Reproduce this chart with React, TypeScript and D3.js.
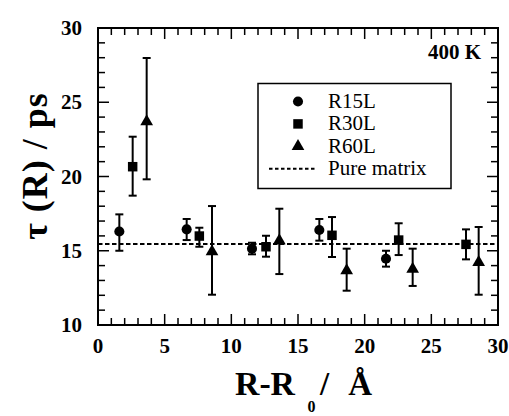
import React, { useRef, useEffect } from "react";
import * as d3 from "d3";

// R15L (circles)
const r15X = [1.6, 6.65, 11.55, 16.6, 21.6];
const r15Y = [16.3, 16.44, 15.14, 16.4, 14.46];
const r15Lo = [15.0, 15.72, 14.76, 15.68, 13.93];
const r15Hi = [17.45, 17.14, 15.54, 17.14, 15.0];

// R30L (squares)
const r30X = [2.6, 7.6, 12.6, 17.55, 22.55, 27.6];
const r30Y = [20.66, 15.99, 15.27, 16.04, 15.72, 15.43];
const r30Lo = [18.71, 15.27, 14.6, 14.58, 14.71, 14.42];
const r30Hi = [22.68, 16.55, 16.01, 17.27, 16.85, 16.44];

// R60L (triangles)
const r60X = [3.65, 8.55, 13.6, 18.65, 23.6, 28.55];
const r60Y = [23.69, 14.94, 15.68, 13.66, 13.77, 14.22];
const r60Lo = [19.81, 12.04, 13.43, 12.31, 12.63, 12.04];
const r60Hi = [27.98, 18.01, 17.83, 15.14, 15.14, 16.6];

const pureMatrix = 15.45;

const xTicks = [0, 5, 10, 15, 20, 25, 30];
const yTicks = [10, 15, 20, 25, 30];
const legendLabels = ["R15L", "R30L", "R60L", "Pure matrix"];

const App = () => {
    const ref = useRef<SVGSVGElement>(null);

    useEffect(() => {
        const width = 509;
        const height = 416;
        const font = "Liberation Serif, DejaVu Serif, serif";

        const svg = d3.select(ref.current)
            .attr("width", width)
            .attr("height", height)
            .attr("font-family", font);
        svg.selectAll("*").remove();

        const x = d3.scaleLinear().domain([0, 30]).range([98, 498]);
        const y = d3.scaleLinear().domain([10, 30]).range([325, 28]);

        const [x0, x1] = x.range();
        const [y0, y1] = y.range();

        // ticks on all four sides, pointing in
        const tk = svg.append("g").attr("stroke", "#000").attr("stroke-width", 1.5);
        d3.range(0, 31, 1).forEach(v => {
            const len = v % 5 === 0 ? 11 : 7;
            tk.append("line").attr("x1", x(v)).attr("x2", x(v)).attr("y1", y0).attr("y2", y0 - len);
            tk.append("line").attr("x1", x(v)).attr("x2", x(v)).attr("y1", y1).attr("y2", y1 + len);
        });
        d3.range(10, 31, 1).forEach(v => {
            const len = v % 5 === 0 ? 11 : 7;
            tk.append("line").attr("y1", y(v)).attr("y2", y(v)).attr("x1", x0).attr("x2", x0 + len);
            tk.append("line").attr("y1", y(v)).attr("y2", y(v)).attr("x1", x1).attr("x2", x1 - len);
        });

        // frame
        svg.append("rect")
            .attr("x", x0).attr("y", y1)
            .attr("width", x1 - x0).attr("height", y0 - y1)
            .attr("fill", "none").attr("stroke", "#000").attr("stroke-width", 2);

        // tick labels
        svg.append("g").selectAll("text").data(xTicks).enter().append("text")
            .attr("x", d => x(d)).attr("y", 353)
            .attr("text-anchor", "middle")
            .attr("font-weight", "bold").attr("font-size", 21)
            .text(d => d);
        svg.append("g").selectAll("text").data(yTicks).enter().append("text")
            .attr("x", 82).attr("y", d => y(d) + 7)
            .attr("text-anchor", "end")
            .attr("font-weight", "bold").attr("font-size", 21)
            .text(d => d);

        // pure matrix line
        svg.append("line")
            .attr("x1", x0).attr("x2", x1)
            .attr("y1", y(pureMatrix)).attr("y2", y(pureMatrix))
            .attr("stroke", "#000").attr("stroke-width", 2)
            .attr("stroke-dasharray", "4.5 2.5");

        const series = [
            { xs: r15X, ys: r15Y, lo: r15Lo, hi: r15Hi, sym: d3.symbolCircle, size: 80 },
            { xs: r30X, ys: r30Y, lo: r30Lo, hi: r30Hi, sym: d3.symbolSquare, size: 90 },
            { xs: r60X, ys: r60Y, lo: r60Lo, hi: r60Hi, sym: d3.symbolTriangle, size: 70 },
        ];

        const cap = 4;
        series.forEach(s => {
            const g = svg.append("g");
            s.xs.forEach((xv, i) => {
                const px = x(xv);
                const eb = g.append("g").attr("stroke", "#000").attr("stroke-width", 2);
                eb.append("line").attr("x1", px).attr("x2", px).attr("y1", y(s.lo[i])).attr("y2", y(s.hi[i]));
                eb.append("line").attr("x1", px - cap).attr("x2", px + cap).attr("y1", y(s.lo[i])).attr("y2", y(s.lo[i]));
                eb.append("line").attr("x1", px - cap).attr("x2", px + cap).attr("y1", y(s.hi[i])).attr("y2", y(s.hi[i]));
                g.append("path")
                    .attr("d", d3.symbol().type(s.sym).size(s.size)())
                    .attr("transform", `translate(${px},${y(s.ys[i])})`)
                    .attr("fill", "#000");
            });
        });

        // 400 K label
        svg.append("text")
            .attr("x", 481).attr("y", 59)
            .attr("text-anchor", "end")
            .attr("font-weight", "bold").attr("font-size", 21)
            .text("400 K");

        // Legend
        const lg = svg.append("g");
        lg.append("rect")
            .attr("x", 258).attr("y", 83.5)
            .attr("width", 193).attr("height", 105)
            .attr("fill", "#fff").attr("stroke", "#000").attr("stroke-width", 1.5);
        legendLabels.forEach((lab, i) => {
            const by = 108 + i * 22.4;
            lg.append("text")
                .attr("x", 328).attr("y", by)
                .attr("font-size", 21)
                .text(lab);
            if (i < 3) {
                lg.append("path")
                    .attr("d", d3.symbol().type(series[i].sym).size(series[i].size)())
                    .attr("transform", `translate(298,${by - 6.5})`)
                    .attr("fill", "#000");
            } else {
                lg.append("line")
                    .attr("x1", 269).attr("x2", 317)
                    .attr("y1", by - 6.5).attr("y2", by - 6.5)
                    .attr("stroke", "#000").attr("stroke-width", 2)
                    .attr("stroke-dasharray", "3.5 2.5");
            }
        });

        // Y axis title
        svg.append("text")
            .attr("transform", "translate(47,166) rotate(-90)")
            .attr("text-anchor", "middle")
            .attr("font-weight", "bold").attr("font-size", 36)
            .attr("letter-spacing", 1)
            .text("τ (R) / ps");

        // X axis title
        const xt = svg.append("g").attr("font-weight", "bold");
        xt.append("text").attr("x", 235).attr("y", 395).attr("font-size", 33)
            .attr("textLength", 60).attr("lengthAdjust", "spacingAndGlyphs").text("R-R");
        xt.append("text").attr("x", 311.5).attr("y", 412).attr("text-anchor", "middle").attr("font-size", 16).text("0");
        xt.append("text").attr("x", 320).attr("y", 395).attr("font-size", 33)
            .attr("textLength", 52).attr("lengthAdjust", "spacing").text("/ Å");
    }, []);

    return (
        <div style={{ position: "absolute", left: 0, top: 0 }}>
            <svg ref={ref}></svg>
        </div>
    );
};

export default App;
